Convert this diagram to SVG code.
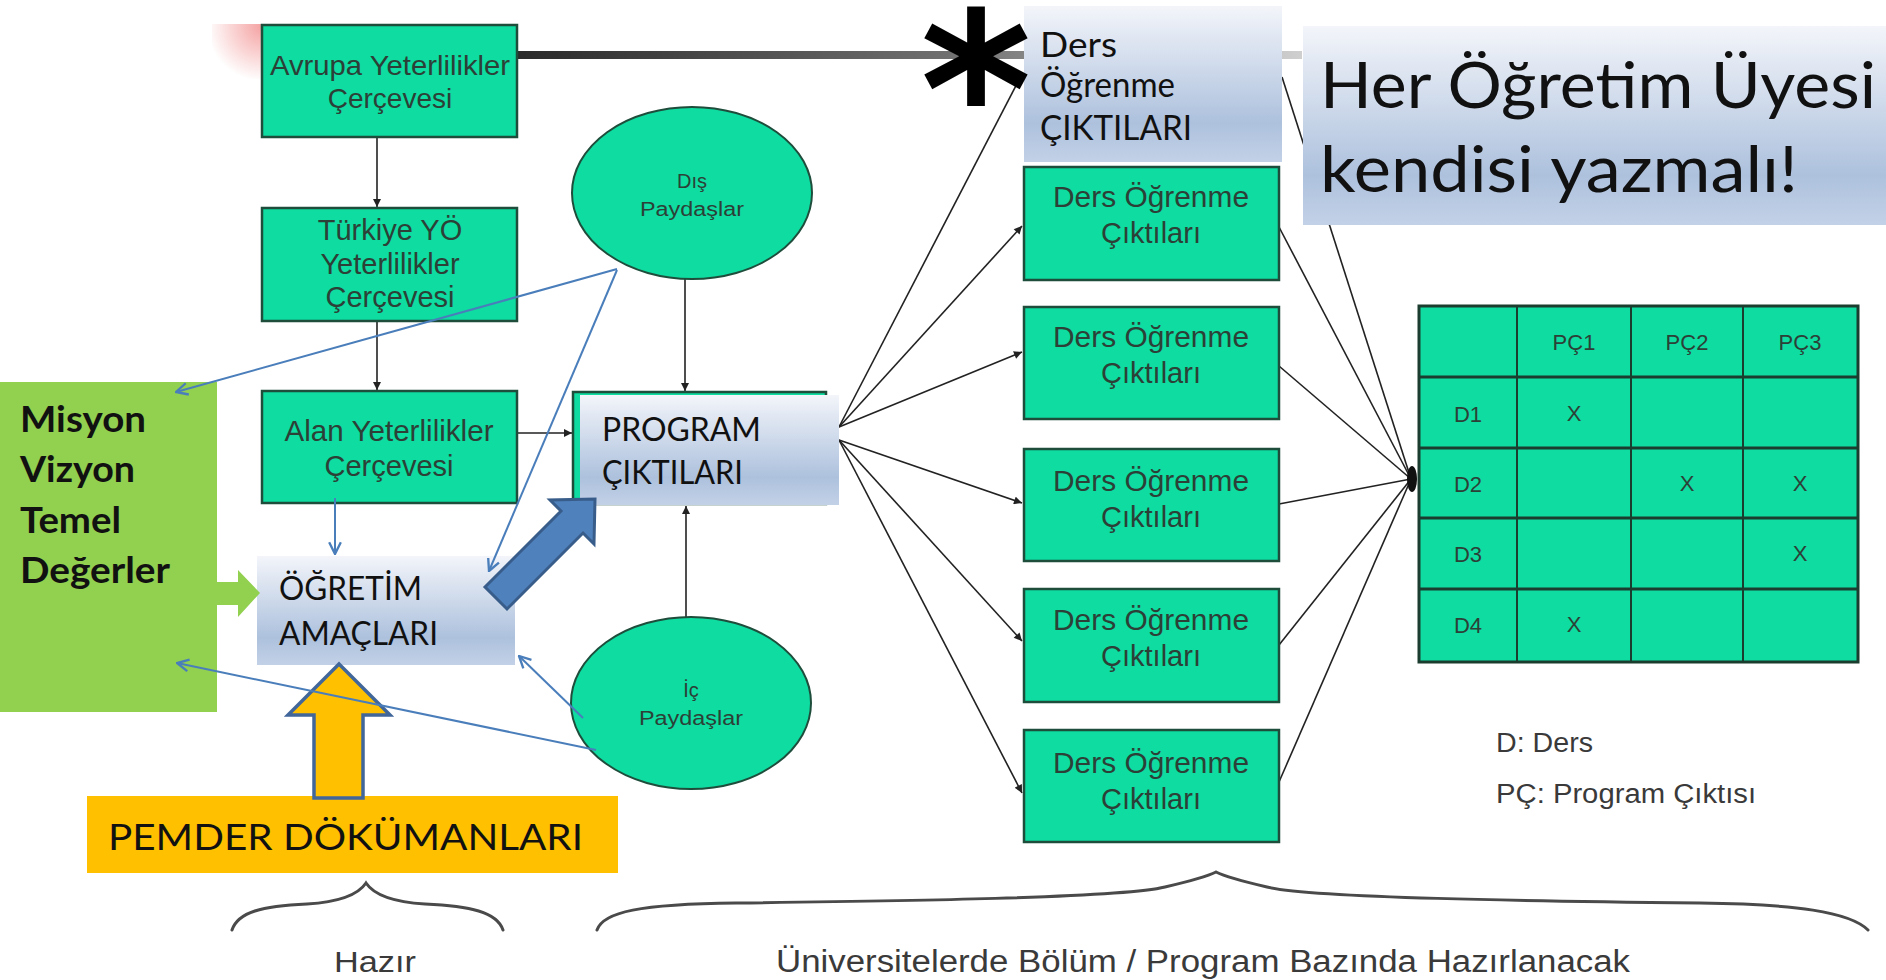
<svg xmlns="http://www.w3.org/2000/svg" width="1886" height="980" viewBox="0 0 1886 980">
<style>
.teal{fill:#0EDCA0;stroke:#1f4d3c;stroke-width:2.5}
.tt{font-family:"Liberation Sans",Arial,sans-serif;fill:#2c4037;text-anchor:middle}
.cal{font-family:Lato,"Open Sans",sans-serif;fill:#111}
.blk{stroke:#222;stroke-width:1.6;fill:none}
.bl{stroke:#4A7EBB;stroke-width:2;fill:none}
.brace{stroke:#4a4a4a;stroke-width:3;fill:none;stroke-linecap:round}
.lab{font-family:"Liberation Sans",Arial,sans-serif;fill:#3a3a3a}
.grid{stroke:#1b3d2f;fill:none}
</style>
<defs>
<linearGradient id="gBlue" x1="0" y1="0" x2="0" y2="1">
<stop offset="0" stop-color="#f3f5fa"/>
<stop offset="0.75" stop-color="#adc1dd"/>
<stop offset="1" stop-color="#c3d1e7"/>
</linearGradient>
<linearGradient id="gGray" x1="517" y1="0" x2="1302" y2="0" gradientUnits="userSpaceOnUse">
<stop offset="0" stop-color="#2a2a2a"/>
<stop offset="0.55" stop-color="#707070"/>
<stop offset="1" stop-color="#cfcfcf"/>
</linearGradient>
<radialGradient id="gPink" cx="262" cy="26" r="55" gradientUnits="userSpaceOnUse">
<stop offset="0" stop-color="#f07a7a" stop-opacity="0.7"/>
<stop offset="1" stop-color="#f07a7a" stop-opacity="0"/>
</radialGradient>
<marker id="ab" viewBox="0 0 10 10" refX="10" refY="5" markerWidth="10" markerHeight="8" markerUnits="userSpaceOnUse" orient="auto"><path d="M0,0 L10,5 L0,10 z" fill="#222"/></marker>
<marker id="abl" viewBox="0 0 12 12" refX="11" refY="6" markerWidth="14" markerHeight="14" markerUnits="userSpaceOnUse" orient="auto"><path d="M1,1 L11,6 L1,11" fill="none" stroke="#4A7EBB" stroke-width="2"/></marker>
</defs>
<rect width="1886" height="980" fill="#fff"/>
<rect x="212" y="24" width="50" height="55" fill="url(#gPink)"/>

<g id="connectors">
<line x1="517" y1="55" x2="1302" y2="55" stroke="url(#gGray)" stroke-width="8"/>
<line class="blk" x1="377" y1="137" x2="377" y2="207" marker-end="url(#ab)"/>
<line class="blk" x1="377" y1="321" x2="377" y2="390" marker-end="url(#ab)"/>
<line class="blk" x1="517" y1="433" x2="572" y2="433" marker-end="url(#ab)"/>
<line class="blk" x1="685" y1="279" x2="685" y2="391" marker-end="url(#ab)"/>
<line class="blk" x1="686" y1="618" x2="686" y2="506" marker-end="url(#ab)"/>
<line class="blk" x1="839" y1="427" x2="1022" y2="74" marker-end="url(#ab)"/>
<line class="blk" x1="839" y1="427" x2="1022" y2="226" marker-end="url(#ab)"/>
<line class="blk" x1="839" y1="427" x2="1022" y2="352" marker-end="url(#ab)"/>
<line class="blk" x1="839" y1="440" x2="1022" y2="503" marker-end="url(#ab)"/>
<line class="blk" x1="839" y1="440" x2="1022" y2="641" marker-end="url(#ab)"/>
<line class="blk" x1="839" y1="440" x2="1022" y2="793" marker-end="url(#ab)"/>
<line class="blk" x1="1282" y1="77" x2="1411" y2="479"/>
<line class="blk" x1="1279" y1="227" x2="1411" y2="479"/>
<line class="blk" x1="1279" y1="366" x2="1411" y2="479"/>
<line class="blk" x1="1279" y1="504" x2="1411" y2="479"/>
<line class="blk" x1="1279" y1="645" x2="1411" y2="479"/>
<line class="blk" x1="1279" y1="782" x2="1411" y2="479"/>
<ellipse cx="1412" cy="479" rx="5" ry="13" fill="#111"/>
</g>

<g id="avrupa">
<rect class="teal" x="262" y="25" width="255" height="112"/>
<text class="tt" font-size="28" x="390" y="75" textLength="240" lengthAdjust="spacingAndGlyphs">Avrupa Yeterlilikler</text>
<text class="tt" font-size="28" x="390" y="108">Çerçevesi</text>
</g>
<g id="turkiye">
<rect class="teal" x="262" y="208" width="255" height="113"/>
<text class="tt" font-size="29" x="390" y="240">Türkiye YÖ</text>
<text class="tt" font-size="29" x="390" y="274">Yeterlilikler</text>
<text class="tt" font-size="29" x="390" y="307">Çerçevesi</text>
</g>
<g id="alan">
<rect class="teal" x="262" y="391" width="255" height="112"/>
<text class="tt" font-size="29" x="389" y="441" textLength="209" lengthAdjust="spacingAndGlyphs">Alan Yeterlilikler</text>
<text class="tt" font-size="29" x="389" y="476">Çerçevesi</text>
</g>
<g id="dis">
<ellipse cx="692" cy="193" rx="120" ry="86" fill="#0EDCA0" stroke="#1f4d3c" stroke-width="2"/>
<text class="tt" font-size="20" x="692" y="188">Dış</text>
<text class="tt" font-size="20" x="692" y="216" textLength="104" lengthAdjust="spacingAndGlyphs">Paydaşlar</text>
</g>
<g id="ic">
<ellipse cx="691" cy="703" rx="120" ry="86" fill="#0EDCA0" stroke="#1f4d3c" stroke-width="2"/>
<text class="tt" font-size="20" x="691" y="697">İç</text>
<text class="tt" font-size="20" x="691" y="725" textLength="104" lengthAdjust="spacingAndGlyphs">Paydaşlar</text>
</g>

<g id="program">
<rect class="teal" x="573" y="392" width="253" height="112"/>
<rect x="580" y="395" width="259" height="110" fill="url(#gBlue)"/>
<text class="cal" font-size="32" x="602" y="441" textLength="159" lengthAdjust="spacingAndGlyphs">PROGRAM</text>
<text class="cal" font-size="32" x="602" y="484" textLength="141" lengthAdjust="spacingAndGlyphs">ÇIKTILARI</text>
</g>

<g id="ders-top">
<rect x="1024" y="6" width="258" height="156" fill="url(#gBlue)"/>
<text class="cal" font-size="34" x="1040" y="57" textLength="77" lengthAdjust="spacingAndGlyphs">Ders</text>
<text class="cal" font-size="34" x="1040" y="97" textLength="135" lengthAdjust="spacingAndGlyphs">Öğrenme</text>
<text class="cal" font-size="34" x="1040" y="140" textLength="152" lengthAdjust="spacingAndGlyphs">ÇIKTILARI</text>
</g>
<g id="asterisk">
<text x="976" y="166" font-family="'DejaVu Sans',sans-serif" font-weight="bold" font-size="214" text-anchor="middle" fill="#000">*</text>
</g>

<g id="ders1">
<rect class="teal" x="1024" y="167" width="255" height="113"/>
<text class="tt" font-size="29" x="1151" y="207" textLength="196" lengthAdjust="spacingAndGlyphs">Ders Öğrenme</text>
<text class="tt" font-size="29" x="1151" y="243">Çıktıları</text>
</g>
<g id="ders2">
<rect class="teal" x="1024" y="307" width="255" height="112"/>
<text class="tt" font-size="29" x="1151" y="347" textLength="196" lengthAdjust="spacingAndGlyphs">Ders Öğrenme</text>
<text class="tt" font-size="29" x="1151" y="383">Çıktıları</text>
</g>
<g id="ders3">
<rect class="teal" x="1024" y="449" width="255" height="112"/>
<text class="tt" font-size="29" x="1151" y="491" textLength="196" lengthAdjust="spacingAndGlyphs">Ders Öğrenme</text>
<text class="tt" font-size="29" x="1151" y="527">Çıktıları</text>
</g>
<g id="ders4">
<rect class="teal" x="1024" y="589" width="255" height="113"/>
<text class="tt" font-size="29" x="1151" y="630" textLength="196" lengthAdjust="spacingAndGlyphs">Ders Öğrenme</text>
<text class="tt" font-size="29" x="1151" y="666">Çıktıları</text>
</g>
<g id="ders5">
<rect class="teal" x="1024" y="730" width="255" height="112"/>
<text class="tt" font-size="29" x="1151" y="773" textLength="196" lengthAdjust="spacingAndGlyphs">Ders Öğrenme</text>
<text class="tt" font-size="29" x="1151" y="809">Çıktıları</text>
</g>

<g id="her">
<rect x="1303" y="26" width="583" height="199" fill="url(#gBlue)"/>
<text class="cal" font-size="64" x="1320" y="108" textLength="556" lengthAdjust="spacingAndGlyphs">Her Öğretim Üyesi</text>
<text class="cal" font-size="64" x="1320" y="192" textLength="478" lengthAdjust="spacingAndGlyphs">kendisi yazmalı!</text>
</g>

<g id="matrix">
<rect x="1419" y="306" width="439" height="356" fill="#0EDCA0"/>
<g class="grid" stroke-width="3">
<rect x="1419" y="306" width="439" height="356"/>
<line x1="1419" y1="377" x2="1858" y2="377"/>
<line x1="1419" y1="448" x2="1858" y2="448"/>
<line x1="1419" y1="518" x2="1858" y2="518"/>
<line x1="1419" y1="589" x2="1858" y2="589"/>
</g>
<g class="grid" stroke-width="2">
<line x1="1517" y1="306" x2="1517" y2="662"/>
<line x1="1631" y1="306" x2="1631" y2="662"/>
<line x1="1743" y1="306" x2="1743" y2="662"/>
</g>
<g class="tt" font-size="22">
<text x="1574" y="350">PÇ1</text>
<text x="1687" y="350">PÇ2</text>
<text x="1800" y="350">PÇ3</text>
<text x="1468" y="422">D1</text>
<text x="1468" y="492">D2</text>
<text x="1468" y="562">D3</text>
<text x="1468" y="633">D4</text>
<text x="1574" y="421">X</text>
<text x="1687" y="491">X</text>
<text x="1800" y="491">X</text>
<text x="1800" y="561">X</text>
<text x="1574" y="632">X</text>
</g>
</g>

<g id="legend">
<text class="lab" font-size="27" x="1496" y="752" textLength="97" lengthAdjust="spacingAndGlyphs">D: Ders</text>
<text class="lab" font-size="27" x="1496" y="803" textLength="260" lengthAdjust="spacingAndGlyphs">PÇ: Program Çıktısı</text>
</g>

<g id="ogretim">
<rect x="257" y="556" width="258" height="109" fill="url(#gBlue)"/>
<text class="cal" font-size="32" x="279" y="600" textLength="143" lengthAdjust="spacingAndGlyphs">ÖĞRETİM</text>
<text class="cal" font-size="32" x="279" y="645" textLength="159" lengthAdjust="spacingAndGlyphs">AMAÇLARI</text>
</g>

<g id="misyon">
<rect x="0" y="382" width="217" height="330" fill="#92D050"/>
<g class="cal" font-weight="bold" font-size="36">
<text x="20" y="432" textLength="126" lengthAdjust="spacingAndGlyphs">Misyon</text>
<text x="20" y="482" textLength="115" lengthAdjust="spacingAndGlyphs">Vizyon</text>
<text x="20" y="533" textLength="101" lengthAdjust="spacingAndGlyphs">Temel</text>
<text x="20" y="583" textLength="150" lengthAdjust="spacingAndGlyphs">Değerler</text>
</g>
</g>
<g id="green-arrow">
<polygon points="217,582 238,582 238,570 260,593 238,617 238,605 217,605" fill="#92D050"/>
</g>

<g id="pemder">
<rect x="87" y="796" width="531" height="77" fill="#FFC000"/>
<text class="cal" font-size="37" x="108" y="850" textLength="475" lengthAdjust="spacingAndGlyphs">PEMDER DÖKÜMANLARI</text>
</g>
<g id="yellow-arrow">
<polygon points="339,664 390,715 363,715 363,798 314,798 314,715 288,715" fill="#FFC000" stroke="#41669A" stroke-width="3.5" stroke-linejoin="miter"/>
</g>
<g id="blue-arrow">
<polygon points="485,587 561,511 550,500 595,499 594,544 583,533 507,609" fill="#4F81BD" stroke="#385D8A" stroke-width="3"/>
</g>

<g id="blue-connectors">
<line class="bl" x1="617" y1="269" x2="176" y2="392" marker-end="url(#abl)"/>
<line class="bl" x1="617" y1="270" x2="489" y2="571" marker-end="url(#abl)"/>
<line class="bl" x1="335" y1="498" x2="335" y2="554" marker-end="url(#abl)"/>
<line class="bl" x1="583" y1="718" x2="519" y2="656" marker-end="url(#abl)"/>
<line class="bl" x1="596" y1="750" x2="177" y2="663" marker-end="url(#abl)"/>
</g>

<g id="braces">
<path class="brace" d="M232,930 C238,912 262,906 307,904 C340,902 358,895 366,883 C374,895 392,902 425,904 C470,906 497,912 503,930"/>
<path class="brace" d="M597,930 C603,912 640,904 736,903 C900,901 1120,898 1165,887 C1195,880 1208,876 1216,872 C1224,876 1237,880 1267,887 C1312,898 1532,901 1700,903 C1795,904 1850,912 1868,930"/>
<text class="lab" font-size="30" x="375" y="972" text-anchor="middle" textLength="82" lengthAdjust="spacingAndGlyphs">Hazır</text>
<text class="lab" font-size="31" x="1203" y="972" text-anchor="middle" textLength="854" lengthAdjust="spacingAndGlyphs">Üniversitelerde Bölüm / Program Bazında Hazırlanacak</text>
</g>
</svg>
